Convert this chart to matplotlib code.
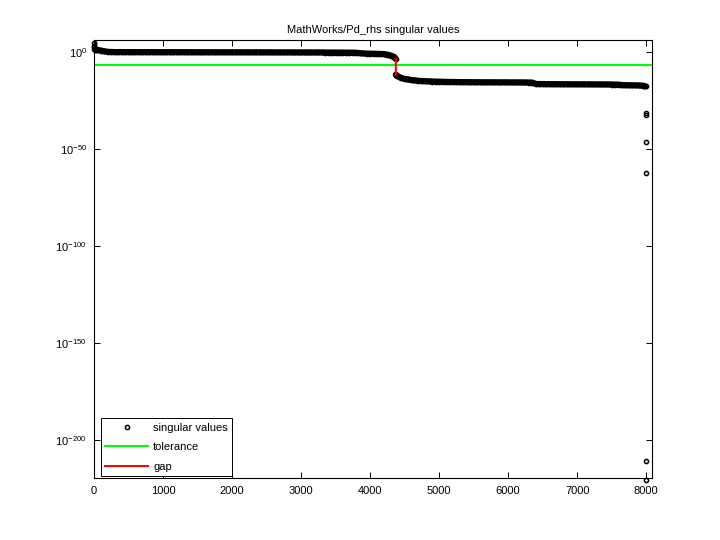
import numpy as np
import matplotlib
matplotlib.use('Agg')
import matplotlib.pyplot as plt
from matplotlib.ticker import FixedLocator, FuncFormatter, NullLocator

plt.rcParams['font.family'] = ['Liberation Sans', 'DejaVu Sans']
plt.rcParams['mathtext.default'] = 'regular'

# singular value index (x) and log10 of the singular value
sv_index = ([1, 2, 3, 5, 10, 20, 30] + list(range(50, 4351, 50)) + [4372, 4373, 4380]
            + list(range(4400, 7951, 50)) + [7990, 7994, 7995, 7996, 7997, 7998, 7999])
sv_log10 = [4.6, 3.4, 2.5, 1.9, 1.6, 1.4, 1.3,
            # 50 .. 4350
            1.2, 0.9, 0.5, 0.25, 0.15, 0.10, 0.10, 0.10, 0.08, 0.08,
            0.08, 0.07, 0.07, 0.07, 0.06, 0.06, 0.06, 0.05, 0.05, 0.05,
            0.05, 0.05, 0.04, 0.04, 0.04, 0.04, 0.03, 0.03, 0.03, 0.03,
            0.02, 0.02, 0.02, 0.02, 0.01, 0.01, 0.01, 0.01, 0.00, 0.00,
            0.00, 0.00, -0.01, -0.01, -0.01, -0.02, -0.02, -0.02, -0.03, -0.03,
            -0.03, -0.04, -0.04, -0.05, -0.05, -0.05, -0.06, -0.06, -0.07, -0.07,
            -0.08, -0.08, -0.09, -0.09, -0.10, -0.10, -0.11, -0.12, -0.12, -0.13,
            -0.14, -0.15, -0.16, -0.18, -0.20, -0.25, -0.45, -0.60, -0.68, -0.72,
            -0.75, -0.80, -0.85, -0.95, -1.20, -1.70, -2.40,
            # around the gap
            -3.4, -11.5, -11.9,
            # 4400 .. 7950
            -12.4, -13.2, -13.7, -14.0, -14.3, -14.5, -14.7, -14.8, -14.9, -15.0,
            -15.05, -15.1, -15.15, -15.2, -15.25, -15.28, -15.3, -15.33, -15.36, -15.38,
            -15.4, -15.42, -15.43, -15.44, -15.45, -15.46, -15.47, -15.48, -15.48, -15.49,
            -15.5, -15.5, -15.51, -15.52, -15.53, -15.54, -15.55, -15.56, -15.57, -15.6,
            -16.3, -16.35, -16.38, -16.4, -16.42, -16.43, -16.44, -16.45, -16.46, -16.47,
            -16.48, -16.49, -16.5, -16.5, -16.51, -16.52, -16.53, -16.54, -16.55, -16.56,
            -16.57, -16.58, -16.6, -16.62, -16.65, -16.9, -16.95, -17.0, -17.02, -17.05,
            -17.1, -17.2,
            # tail
            -17.6, -31.2, -32.2, -46.0, -62.3, -210.6, -220.5]

tol_log10 = -6.3
gap_at = 4372          # last singular value above the gap
band_end = 7990        # last point of the dense band, isolated values after it
x_max = 8084
y_log_lim = (-219.4, 6.34)
ytick_exps = [-200, -150, -100, -50, 0]
xticks = [0, 1000, 2000, 3000, 4000, 5000, 6000, 7000, 8000]

sv = 10.0 ** np.array(sv_log10)
k = sv_index.index(gap_at)
e = sv_index.index(band_end)

fig = plt.figure(figsize=(7.2, 5.4), dpi=100)
ax = fig.add_axes([94 / 720, 1 - 478 / 540, 558 / 720, 438 / 540])

# thousands of overlapping circles form a solid band: draw it as a thick stroke
ax.semilogy(sv_index[:k + 1], sv[:k + 1], color='black', linewidth=4.5,
            solid_capstyle='round', solid_joinstyle='round')
ax.semilogy(sv_index[k + 1:e + 1], sv[k + 1:e + 1], color='black', linewidth=4.5,
            solid_capstyle='round', solid_joinstyle='round')
ax.semilogy(sv_index, sv, 'o', markerfacecolor='none', markeredgecolor='black',
            markersize=3.0, markeredgewidth=1.1, clip_on=False,
            label='singular values')
ax.axhline(10.0 ** tol_log10, color='#00ff00', linewidth=1.5, label='tolerance')
ax.semilogy(sv_index[k:k + 2], sv[k:k + 2], color='#ff0000', linewidth=1.5, label='gap')

ax.set_xlim(0, x_max)
ax.set_ylim(10.0 ** y_log_lim[0], 10.0 ** y_log_lim[1])
ax.set_xticks(xticks)
ax.set_xticklabels([str(t) for t in xticks])
ax.yaxis.set_major_locator(FixedLocator([10.0 ** v for v in ytick_exps]))
ax.yaxis.set_minor_locator(NullLocator())
ax.yaxis.set_major_formatter(FuncFormatter(
    lambda v, p: r'$10^{%d}$' % int(round(np.log10(v)))))

ax.tick_params(direction='in', length=4.3, width=0.7, top=True, right=True,
               labelsize=8)
ax.tick_params(axis='x', pad=6)
ax.tick_params(axis='y', pad=5)
for s in ax.spines.values():
    s.set_linewidth(0.8)

ax.set_title('MathWorks/Pd_rhs singular values', fontsize=8, pad=5)

leg = ax.legend(loc='lower left', bbox_to_anchor=(0.0125, 0.0046), borderaxespad=0,
                fontsize=8, fancybox=False, framealpha=1, edgecolor='black',
                handlelength=3.8, labelspacing=0.85, borderpad=0.4,
                handletextpad=0.5)
leg.get_frame().set_linewidth(0.7)

fig.savefig('out.png', dpi=100)
